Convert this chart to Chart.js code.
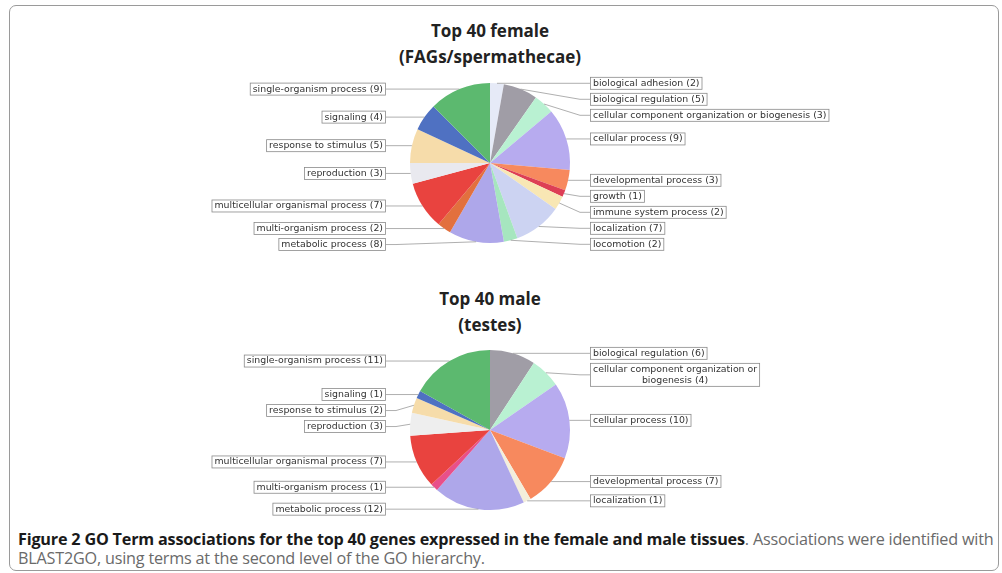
<!DOCTYPE html>
<html>
<head>
<meta charset="utf-8">
<script src="https://cdn.jsdelivr.net/npm/chart.js@4.4.1/dist/chart.umd.min.js"></script>
<style>
  html, body { margin: 0; padding: 0; background: #fff; }
  #page { position: relative; width: 1002px; height: 573px; overflow: hidden; background: #fff; }
  #frame { position: absolute; left: 9px; top: 5px; width: 990px; height: 566px; border: 1px solid #9a9a9a; border-radius: 7px; box-sizing: border-box; }
  .title { position: absolute; left: 290px; width: 400px; text-align: center; font-family: "Open Sans", sans-serif; font-weight: bold; font-size: 17px; line-height: 26px; color: #222; }
  canvas { position: absolute; left: 0; }
  #caption { position: absolute; left: 18px; top: 530px; width: 985px; font-family: "Open Sans", sans-serif; font-size: 16.2px; line-height: 19px; color: #6a6a6a; letter-spacing: -0.2px; white-space: nowrap; }
  #caption b { color: #1a1a1a; }
</style>
</head>
<body>
<div id="page">
  <div id="frame"></div>
  <div class="title" style="top:18px;">Top 40 female<br>(FAGs/spermathecae)</div>
  <canvas id="female" width="1002" height="220" style="top:60px;"></canvas>
  <div class="title" style="top:286px;">Top 40 male<br>(testes)</div>
  <canvas id="male" width="1002" height="190" style="top:335px;"></canvas>
  <div id="caption"><b>Figure 2 GO Term associations for the top 40 genes expressed in the female and male tissues</b>. Associations were identified with<br>BLAST2GO, using terms at the second level of the GO hierarchy.</div>
</div>
<script>
// ---- Data ----
const femaleCategories = [
  "biological adhesion", "biological regulation", "cellular component organization or biogenesis",
  "cellular process", "developmental process", "growth", "immune system process", "localization",
  "locomotion", "metabolic process", "multi-organism process", "multicellular organismal process",
  "reproduction", "response to stimulus", "signaling", "single-organism process"
];
const femaleValues = [2, 5, 3, 9, 3, 1, 2, 7, 2, 8, 2, 7, 3, 5, 4, 9];

const maleCategories = [
  "biological regulation", "cellular component organization or biogenesis", "cellular process",
  "developmental process", "localization", "metabolic process", "multi-organism process",
  "multicellular organismal process", "reproduction", "response to stimulus", "signaling",
  "single-organism process"
];
const maleValues = [6, 4, 10, 7, 1, 12, 1, 7, 3, 2, 1, 11];

// ---- Styles ----
const categoryColors = {
  "biological adhesion": "#e6eaf7",
  "biological regulation": "#a09da6",
  "cellular component organization or biogenesis": "#b9f1d2",
  "cellular process": "#b7abef",
  "developmental process": "#f7895e",
  "growth": "#dd3f55",
  "immune system process": "#f8e7b4",
  "localization": "#ccd3f2",
  "locomotion": "#a6e6bf",
  "metabolic process": "#aea7ea",
  "multi-organism process": "#e2703e",
  "multicellular organismal process": "#e9433f",
  "reproduction": "#e9e9ef",
  "response to stimulus": "#f6dcaa",
  "signaling": "#4f71c2",
  "single-organism process": "#5cb96f"
};
const maleColorOverrides = {
  "localization": "#f3eedb",
  "multi-organism process": "#e8508a",
  "reproduction": "#eeeeee"
};

const labelPlugin = {
  id: 'goLabels',
  afterDatasetsDraw(chart, args, opts) {
    const ctx = chart.ctx;
    const meta = chart.getDatasetMeta(0);
    const ds = chart.data.datasets[0];
    const labels = chart.data.labels;
    const font = '9.4px "DejaVu Sans", sans-serif';
    ctx.save();
    ctx.font = font;
    const lineH = 11;
    const items = [];
    meta.data.forEach((arc, i) => {
      const p = arc.getProps(['x', 'y', 'startAngle', 'endAngle', 'outerRadius'], true);
      const mid = (p.startAngle + p.endAngle) / 2;
      const r = p.outerRadius;
      const ax = p.x + r * Math.cos(mid);
      const ay = p.y + r * Math.sin(mid);
      const text = labels[i] + ' (' + ds.data[i] + ')';
      let lines = [text];
      if (ctx.measureText(text).width > opts.maxWidth) {
        const words = text.split(' ');
        lines = [];
        let cur = '';
        words.forEach(w => {
          const t = cur ? cur + ' ' + w : w;
          if (ctx.measureText(t).width > opts.maxWidth && cur) { lines.push(cur); cur = w; }
          else cur = t;
        });
        if (cur) lines.push(cur);
      }
      const w = Math.max(...lines.map(l => ctx.measureText(l).width)) + 6;
      const h = lines.length * lineH + 2;
      items.push({ cx: p.x, cy: p.y, r, ax, ay, y: ay, lines, w, h, right: Math.cos(mid) >= 0 });
    });
    [true, false].forEach(side => {
      const group = items.filter(it => it.right === side).sort((a, b) => a.y - b.y);
      for (let k = 1; k < group.length; k++) {
        const prev = group[k - 1], cur = group[k];
        const minY = prev.y + (prev.h + cur.h) / 2 + 3;
        if (cur.y < minY) cur.y = minY;
      }
      group.forEach(it => {
        const bx = it.right ? it.cx + opts.rightGap : it.cx - opts.leftGap - it.w;
        const by = it.y - it.h / 2;
        ctx.strokeStyle = '#9a9a9a';
        ctx.lineWidth = 0.8;
        ctx.beginPath();
        const lx = it.right ? bx : bx + it.w;
        ctx.moveTo(lx, it.y);
        const bend = it.right ? lx - 10 : lx + 10;
        ctx.lineTo(bend, it.y);
        ctx.lineTo(it.ax, it.ay);
        ctx.stroke();
        ctx.fillStyle = '#ffffff';
        ctx.fillRect(bx, by, it.w, it.h);
        ctx.strokeStyle = '#8a8a8a';
        ctx.lineWidth = 0.8;
        ctx.strokeRect(bx + 0.5, by + 0.5, it.w - 1, it.h - 1);
        ctx.fillStyle = '#333333';
        ctx.textBaseline = 'middle';
        ctx.textAlign = 'center';
        it.lines.forEach((l, j) => {
          ctx.fillText(l, bx + it.w / 2, by + 1 + lineH / 2 + j * lineH);
        });
      });
    });
    ctx.restore();
  }
};

function makePie(id, cats, vals, overrides, padding, maxWidth) {
  const colors = cats.map(c => (overrides && overrides[c]) || categoryColors[c]);
  return new Chart(document.getElementById(id), {
    type: 'pie',
    data: {
      labels: cats,
      datasets: [{ data: vals, backgroundColor: colors, borderWidth: 0 }]
    },
    options: {
      responsive: false,
      animation: false,
      layout: { padding },
      plugins: {
        legend: { display: false },
        tooltip: { enabled: false },
        goLabels: { leftGap: 104, rightGap: 100, maxWidth }
      }
    },
    plugins: [labelPlugin]
  });
}

makePie('female', femaleCategories, femaleValues, null,
  { left: 410, right: 432, top: 23, bottom: 37 }, 300);
makePie('male', maleCategories, maleValues, maleColorOverrides,
  { left: 410, right: 432, top: 15, bottom: 15 }, 190);
</script>
</body>
</html>
